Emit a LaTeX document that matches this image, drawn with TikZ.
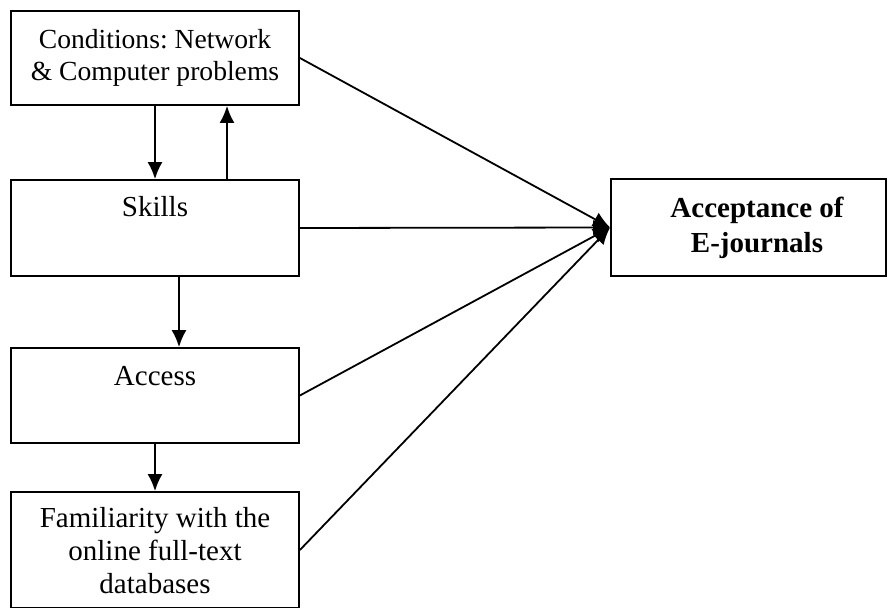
\documentclass[tikz,border=0pt]{standalone}
\usepackage{fontspec}
\setmainfont{Liberation Serif}
\usetikzlibrary{arrows.meta,positioning}
\begin{document}
\frenchspacing
\begin{tikzpicture}[x=0.5pt, y=-0.5pt,
				>={Latex[length=8.5pt,width=7.5pt]},   % Pfeilspitzen
				kasten/.style={draw, line width=0.9pt, minimum width=144pt, inner sep=0pt},
				schrift/.style={inner sep=0pt, align=center, font=\fontsize{14.5}{16.5}\selectfont},
				pfeil/.style={->, line width=0.9pt}]
				\useasboundingbox (0,0) rectangle (888,608);
				% Kaesten links
				\node[kasten, minimum height=47pt, align=center, font=\fontsize{13.8}{16}\selectfont] (cond) at (155,58) {Conditions: Network\\ \& Computer problems};
				\node[kasten, minimum height=48pt] (skills) at (155,228) {};
				\node[schrift, below=8.6pt of skills.north] (skillslbl) {Skills};
				\node[kasten, minimum height=47.5pt] (access) at (155,395.5) {};
				\node[schrift, below=9.4pt of access.north] (accesslbl) {Access};
				\node[kasten, minimum height=58pt] (famil) at (155,550) {};
				\node[schrift, below=8.1pt of famil.north] (famillbl) {Familiarity with the\\ online full-text\\ databases};
				% Kasten rechts
				\node[kasten, minimum width=137.5pt, minimum height=48.5pt] (accept) at (748.5,227.5) {};
				\node[schrift, font=\fontsize{14.5}{17.5}\selectfont\bfseries] (acceptlbl) at (757,227.5) {Acceptance of\\ E-journals};
				% Pfeile zwischen den Kaesten
				\draw[pfeil] (cond.south) -- (skills.north);
				\draw[pfeil] ([xshift=36pt]skills.north) -- ([xshift=36pt]cond.south);
				\draw[pfeil] ([xshift=12pt]skills.south) -- ([xshift=12pt]access.north);
				\draw[pfeil] (access.south) -- (famil.north);
				% Pfeile zur Akzeptanz
				\foreach \quelle in {cond,skills,access,famil}
					\draw[pfeil] (\quelle.east) -- (accept.west);
\end{tikzpicture}
\end{document}
